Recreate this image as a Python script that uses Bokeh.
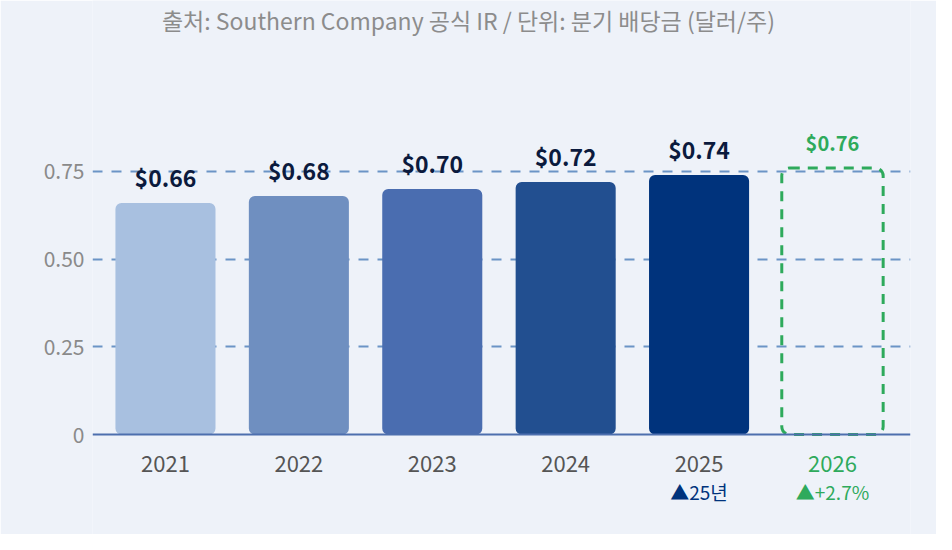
from bokeh.plotting import figure
from bokeh.models import ColumnDataSource, FixedTicker, Range1d, Span
from bokeh.core.properties import value
from bokeh.embed import file_html
from bokeh.resources import INLINE

# ---- data ----
years = ["2021", "2022", "2023", "2024", "2025", "2026"]
dividends = [0.66, 0.68, 0.70, 0.72, 0.74, 0.76]
value_labels = ["$0.66", "$0.68", "$0.70", "$0.72", "$0.74", "$0.76"]
bar_colors = ["#a8c0e0", "#6f8fc0", "#4a6db0", "#224f90", "#00337c"]
notes = ["", "", "", "", "▲25년", "▲+2.7%"]
note_colors = ["#00337c", "#00337c", "#00337c", "#00337c", "#00337c", "#2eaa5c"]
year_colors = ["#555555", "#555555", "#555555", "#555555", "#555555", "#2eaa5c"]
y_ticks = [0, 0.25, 0.5, 0.75]
y_tick_text = ["0", "0.25", "0.50", "0.75"]
title_text = "출처: Southern Company 공식 IR / 단위: 분기 배당금 (달러/주)"

FONT = "Noto Sans CJK KR"
BG = "#eef2f9"
GREEN = "#2eaa5c"

n_actual = 5
xs = list(range(len(years)))

p = figure(width=936, height=534, output_backend="svg", toolbar_location=None,
           x_range=Range1d(-0.547, 5.585), y_range=Range1d(-0.2851, 1.2375),
           x_axis_location=None, min_border_left=92, min_border_right=26,
           min_border_top=0, min_border_bottom=0)
p.background_fill_color = BG
p.border_fill_color = BG
p.outline_line_color = None
p.xgrid.visible = False

# y axis
p.yaxis.ticker = FixedTicker(ticks=y_ticks)
p.yaxis.major_label_overrides = {t: s for t, s in zip(y_ticks, y_tick_text)}
p.yaxis.axis_line_color = None
p.yaxis.major_tick_line_color = None
p.yaxis.minor_tick_line_color = None
p.yaxis.major_tick_out = 0
p.yaxis.major_tick_in = 0
p.yaxis.major_label_standoff = 8
p.yaxis.major_label_text_font = FONT
p.yaxis.major_label_text_font_size = "21px"
p.yaxis.major_label_text_color = "#8a8a8a"

p.ygrid.ticker = FixedTicker(ticks=y_ticks[1:])
p.ygrid.grid_line_color = "#6b94c6"
p.ygrid.grid_line_width = 2
p.ygrid.grid_line_dash = "10 9"

# actual bars
src = ColumnDataSource(dict(x=xs[:n_actual], top=dividends[:n_actual], color=bar_colors,
                            label=value_labels[:n_actual]))
p.vbar(x="x", top="top", bottom=0, width=0.75, source=src, fill_color="color",
       line_color=None, border_radius=6)

# projected 2026 box
psrc = ColumnDataSource(dict(x=xs[n_actual:], top=dividends[n_actual:], label=value_labels[n_actual:]))
p.vbar(x="x", top="top", bottom=0, width=0.76, source=psrc, fill_color=None,
       line_color=GREEN, line_width=3, line_dash="10 8", border_radius=8)

# baseline
p.add_layout(Span(location=0, dimension="width", line_color="#4d6fae", line_width=2))

# value labels
p.text(x="x", y="top", text="label", source=src, text_align="center", text_baseline="middle",
       y_offset=-26, text_font=value(FONT), text_font_size="23px", text_font_style="bold",
       text_color="#0b1a3d")
p.text(x="x", y="top", text="label", source=psrc, text_align="center", text_baseline="middle",
       y_offset=-25, text_font=value(FONT), text_font_size="20px", text_font_style="bold",
       text_color=GREEN)

# category labels and notes
csrc = ColumnDataSource(dict(x=xs, y=[0] * len(xs), year=years, ycol=year_colors,
                             note=notes, ncol=note_colors))
p.text(x="x", y="y", text="year", source=csrc, text_align="center", text_baseline="middle",
       y_offset=29, text_font=value(FONT), text_font_size="22px", text_color="ycol")
p.text(x="x", y="y", text="note", source=csrc, text_align="center", text_baseline="middle",
       y_offset=57, text_font=value(FONT), text_font_size="19px", text_color="ncol")

# title (centered over canvas)
p.text(x=[2.271], y=[1.1805], text=[title_text], text_align="center", text_baseline="middle",
       text_font=value(FONT), text_font_size="23px", text_color="#8c8c8c")

open("out.html", "w").write(file_html(p, INLINE))
